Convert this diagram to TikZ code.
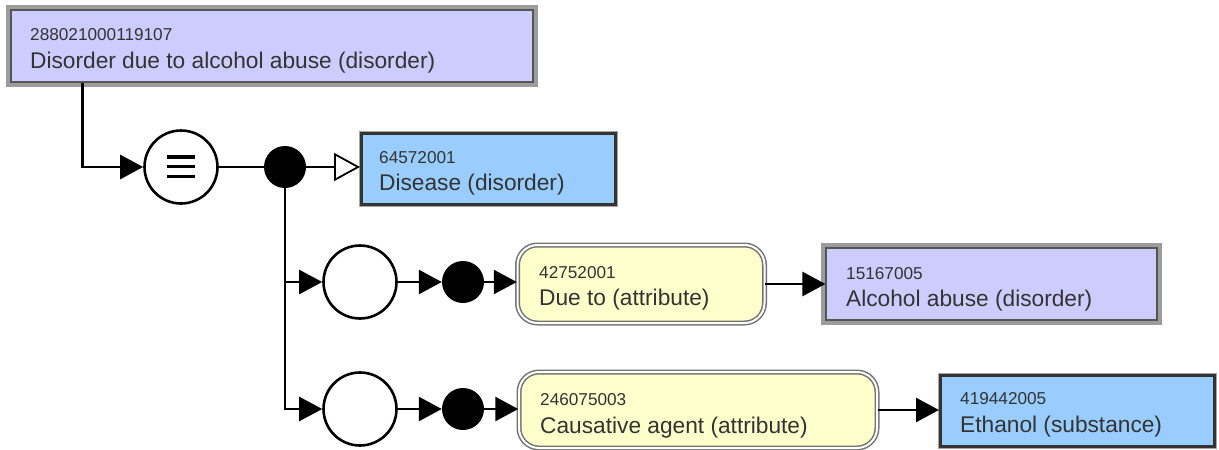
\documentclass[tikz,border=0pt]{standalone}
\usepackage{fontspec}
\setmainfont{Liberation Sans}
\usetikzlibrary{arrows.meta,calc}
\definecolor{lav}{HTML}{CCCCFF}
\definecolor{skyb}{HTML}{99CCFF}
\definecolor{attrc}{HTML}{FFFFCC}
\definecolor{txt}{HTML}{333333}
\definecolor{framec}{HTML}{9C9C9C}
\definecolor{frin}{HTML}{555555}
\definecolor{dk}{HTML}{333333}
\begin{document}
\begin{tikzpicture}[x=1pt,y=-1pt,
 defbox/.style={rectangle, inner sep=0pt, fill=lav, draw=frin, line width=1.2pt, preaction={draw=framec, line width=10pt}},
 primbox/.style={rectangle, inner sep=0pt, fill=skyb, draw=dk, line width=3pt, preaction={draw=black!35, line width=5pt}},
 attrbox/.style={rectangle, rounded corners=20pt, inner sep=0pt, fill=attrc, draw=black!55, double=white, double distance=2pt, line width=1.5pt},
 num/.style={anchor=base west, inner sep=0pt, text=txt, font=\fontsize{17.2}{20}\selectfont},
 lbl/.style={anchor=base west, inner sep=0pt, text=txt, font=\fontsize{22.7}{26}\selectfont},
 grp/.style={circle, draw=black, line width=2.6pt, fill=white, minimum size=73pt, inner sep=0pt},
 conj/.style={circle, fill=black, minimum size=42pt, inner sep=0pt},
 link/.style={line width=2.6pt, draw=black},
 arr/.style={link, -{Triangle[length=23pt,width=24pt]}},
 isa/.style={link, -{Triangle[open,length=26pt,width=28pt,fill=white,line width=1.8pt]}},
]
\useasboundingbox (0,0) rectangle (1219,450);
% boxes and circles
\node[defbox, minimum width=522pt, minimum height=72pt] (top) at (272,46) {};
\node[grp] (eq) at (181,167) {};
\node[conj] (d1) at (285,167) {};
\node[primbox, minimum width=254pt, minimum height=71pt] (dis) at (488.5,169) {};
\node[grp] (g1) at (360,282) {};
\node[conj] (d2) at (463,282) {};
\node[attrbox, minimum width=247pt, minimum height=78pt] (due) at (641,284) {};
\node[defbox, minimum width=331pt, minimum height=72pt] (alc) at (991.5,284) {};
\node[grp] (g2) at (360,409) {};
\node[conj] (d3) at (463,409) {};
\node[attrbox, minimum width=358pt, minimum height=76pt] (cau) at (698,410) {};
\node[primbox, minimum width=274pt, minimum height=71pt] (eth) at (1077.5,411) {};
% equivalence sign
\foreach \dy in {-10,-0.5,9.5}
  \draw[line width=3.2pt] ($(eq.center)+(-14,\dy)$) -- ++(28,0);
% texts
\node[num] (topn) at (30,40) {288021000119107};
\node[lbl] (topl) at (30,68) {Disorder due to alcohol abuse (disorder)};
\node[num] (disn) at (379,163) {64572001};
\node[lbl] (disl) at (379,190) {Disease (disorder)};
\node[num] (duen) at (539,278) {42752001};
\node[lbl] (duel) at (539,305) {Due to (attribute)};
\node[num] (alcn) at (846,279) {15167005};
\node[lbl] (alcl) at (846,306) {Alcohol abuse (disorder)};
\node[num] (caun) at (540,405) {246075003};
\node[lbl] (caul) at (540,433) {Causative agent (attribute)};
\node[num] (ethn) at (960,404) {419442005};
\node[lbl] (ethl) at (960,432) {Ethanol (substance)};
% connectors
\draw[arr] ([xshift=72pt]top.south west) |- (eq.west);
\draw[link] (eq.east) -- (d1.west);
\draw[isa] (d1.east) -- (dis.west |- d1.east);
\draw[arr] (d1.south) |- (g2.west);
\draw[arr] (d1.center |- g1.west) -- (g1.west);
\draw[arr] (g1.east) -- (d2.west);
\draw[arr] (d2.east) -- (due.west |- d2.east);
\draw[arr] (due.east) -- (alc.west);
\draw[arr] (g2.east) -- (d3.west);
\draw[arr] (d3.east) -- (cau.west |- d3.east);
\draw[arr] (cau.east) -- (eth.west |- cau.east);
\end{tikzpicture}
\end{document}
